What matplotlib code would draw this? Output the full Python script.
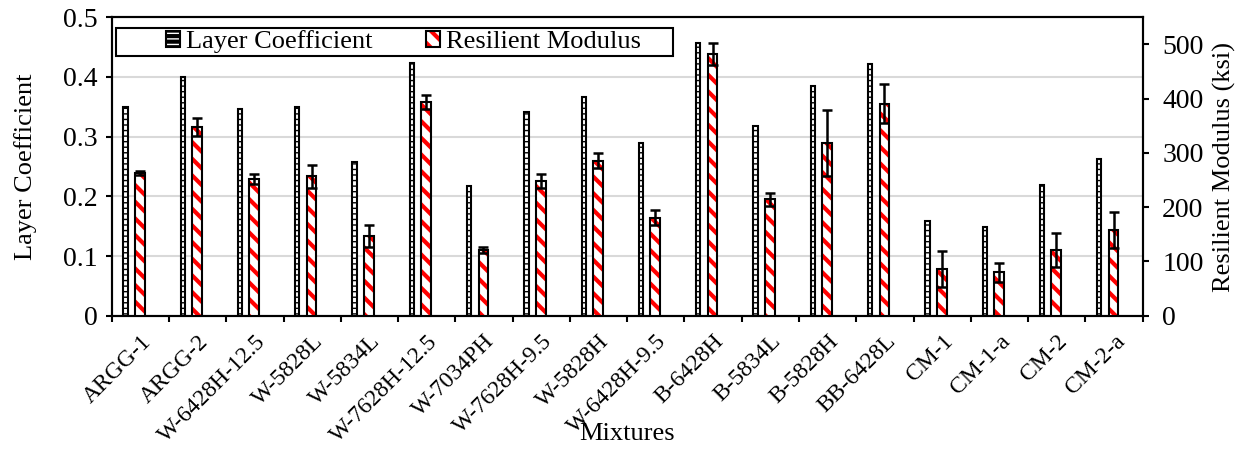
import numpy as np
import matplotlib
matplotlib.use('Agg')
import matplotlib.pyplot as plt
from matplotlib.patches import Patch, Rectangle
from matplotlib.legend_handler import HandlerTuple

plt.rcParams.update({
    "font.family": "serif",
    "font.serif": ["Liberation Serif", "DejaVu Serif"],
    "font.size": 20,
    "hatch.linewidth": 3.0,
})

mixtures = ["ARGG-1", "ARGG-2", "W-6428H-12.5", "W-5828L", "W-5834L", "W-7628H-12.5",
            "W-7034PH", "W-7628H-9.5", "W-5828H", "W-6428H-9.5", "B-6428H", "B-5834L",
            "B-5828H", "BB-6428L", "CM-1", "CM-1-a", "CM-2", "CM-2-a"]
layer_coef = [0.350, 0.400, 0.346, 0.349, 0.258, 0.423, 0.218, 0.341, 0.366, 0.289,
              0.457, 0.318, 0.385, 0.421, 0.159, 0.149, 0.219, 0.263]
res_mod = [263, 348, 252, 257, 147, 394, 121, 248, 286, 181,
           482, 215, 318, 391, 86, 80, 121, 158]
res_err = [3, 16, 9, 21, 20, 13, 6, 13, 14, 14,
           20, 12, 61, 36, 34, 17, 31, 33]

x = np.arange(len(mixtures))

fig = plt.figure(figsize=(12.42, 4.54), dpi=100)
ax = fig.add_axes([0.0899, 0.3046, 0.8302, 0.6573])
ax2 = ax.twinx()

# layer coefficient (left axis)
with plt.rc_context({"hatch.linewidth": 1.0}):
    ax.bar(x - 0.26, layer_coef, width=0.075, color='white', edgecolor='black',
           hatch='---', linewidth=1.5, zorder=3)

# resilient modulus (right axis): red hatch + black outline
ax2.bar(x - 0.01, res_mod, width=0.17, color='white', edgecolor='red',
        hatch='\\\\', linewidth=0, zorder=3)
ax2.bar(x - 0.01, res_mod, width=0.17, fill=False, edgecolor='black',
        linewidth=1.5, zorder=4)
ax2.errorbar(x - 0.01, res_mod, yerr=res_err, fmt='none', ecolor='black',
             elinewidth=1.8, capsize=3.6, capthick=1.8, zorder=5)

ax.set_xlim(-0.5, len(mixtures) - 0.5)
ax.set_ylim(0, 0.5)
ax2.set_ylim(0, 550)
ax.set_yticks(np.arange(0, 0.51, 0.1))
ax.set_yticklabels(['0', '0.1', '0.2', '0.3', '0.4', '0.5'])
ax2.set_yticks(np.arange(0, 501, 100))

ax.set_xticks(x)
ax.set_xticklabels(mixtures, rotation=45, ha='right', rotation_mode='anchor', fontsize=17)
ax.set_xticks(np.arange(-0.5, len(mixtures)), minor=True)
ax.tick_params(axis='x', which='major', length=0, pad=11)
ax.tick_params(axis='x', which='minor', length=4, width=1.5, direction='out')
ax.tick_params(axis='y', length=4, width=1.5, direction='out', pad=6)
ax2.tick_params(axis='y', length=4, width=1.5, direction='out', pad=10)

ax.yaxis.grid(True, color='#d9d9d9', linewidth=1.5, zorder=0)
ax.set_axisbelow(True)
for a in (ax, ax2):
    for s in a.spines.values():
        s.set_linewidth(1.5)

ax.set_ylabel("Layer Coefficient", fontsize=19)
ax.yaxis.set_label_coords(-0.072, 0.5)
ax2.set_ylabel("Resilient Modulus (ksi)", fontsize=19)
ax2.yaxis.set_label_coords(1.068, 0.5)
ax.set_xlabel("Mixtures", fontsize=19)
ax.xaxis.set_label_coords(0.5, -0.36)

# legend with a drawn frame
h_lc = Patch(facecolor='white', edgecolor='black', hatch='---', linewidth=1.5)
h_rm_fill = Patch(facecolor='white', edgecolor='red', hatch='\\\\', linewidth=0)
h_rm_edge = Patch(fill=False, edgecolor='black', linewidth=1.5)
ax2.legend([h_lc, (h_rm_fill, h_rm_edge)], ["Layer Coefficient", "Resilient Modulus"],
           handler_map={tuple: HandlerTuple(ndivide=1, pad=0)},
           loc='center', bbox_to_anchor=(0.283, 0.918), ncol=2, frameon=False,
           handlelength=0.53, handleheight=0.53, handletextpad=0.2,
           columnspacing=2.05, borderpad=0, fontsize=19)
ax2.add_patch(Rectangle((0.0042, 0.8703), 0.5402, 0.0955, transform=ax2.transAxes,
                        fill=False, edgecolor='black', linewidth=1.5, zorder=10,
                        clip_on=False))

fig.savefig('out.png', dpi=100, facecolor='white')
